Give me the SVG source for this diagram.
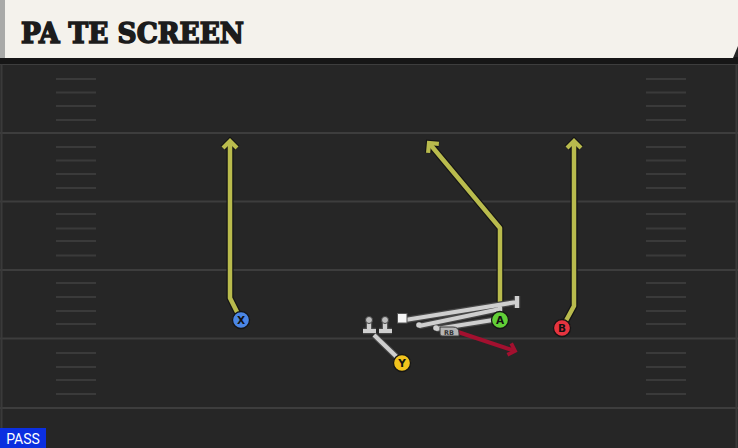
<svg xmlns="http://www.w3.org/2000/svg" width="738" height="448" viewBox="0 0 738 448">
<defs>
<style>
.yard{stroke:#3d3d3d;stroke-width:2}
.hash{stroke:#3a3a3a;stroke-width:2}
.rt-o{fill:none;stroke:#151515;stroke-width:7;stroke-linejoin:round}
.rt{fill:none;stroke:#b9bb4d;stroke-width:4.5;stroke-linejoin:round}
.blk-o{fill:none;stroke:#474747;stroke-width:6.5}
.blk{fill:none;stroke:#cfcfcf;stroke-width:4.2}
.pl{stroke:#151515;stroke-width:1.3}
.lbl{font-family:"DejaVu Sans","Liberation Sans",sans-serif;font-weight:bold;font-size:10.5px;fill:#111;text-anchor:middle}
</style>
<marker id="ah" viewBox="0 0 20 20" refX="11" refY="10" markerWidth="20" markerHeight="20" orient="auto" markerUnits="userSpaceOnUse">
<path d="M4,3 L11,10 L4,17" fill="none" stroke="#b9bb4d" stroke-width="4.2" stroke-linejoin="miter"/>
</marker>
<marker id="aho" viewBox="0 0 20 20" refX="11" refY="10" markerWidth="20" markerHeight="20" orient="auto" markerUnits="userSpaceOnUse">
<path d="M4,3 L11,10 L4,17" fill="none" stroke="#151515" stroke-width="6.5" stroke-linejoin="miter"/>
</marker>
<marker id="ahr" viewBox="0 0 20 20" refX="11" refY="10" markerWidth="20" markerHeight="20" orient="auto" markerUnits="userSpaceOnUse">
<path d="M5,4 L11,10 L5,16" fill="none" stroke="#a3102f" stroke-width="3.8"/>
</marker>
</defs>
<rect x="0" y="0" width="738" height="448" fill="#262626"/>
<g id="field">
<line x1="0" y1="64" x2="738" y2="64" class="yard"/>
<line x1="0" y1="133" x2="738" y2="133" class="yard"/>
<line x1="0" y1="201.5" x2="738" y2="201.5" class="yard"/>
<line x1="0" y1="270" x2="738" y2="270" class="yard"/>
<line x1="0" y1="338.5" x2="738" y2="338.5" class="yard"/>
<line x1="0" y1="408" x2="738" y2="408" class="yard"/>
<line x1="1.5" y1="60" x2="1.5" y2="448" stroke="#3a3a3a" stroke-width="2"/>
<line x1="736.5" y1="60" x2="736.5" y2="448" stroke="#3a3a3a" stroke-width="2"/>
<g class="hash">
<path d="M56,79H96M56,92.5H96M56,106H96M56,120H96M56,147H96M56,160.5H96M56,174H96M56,188H96M56,214H96M56,228.5H96M56,241H96M56,255.5H96M56,283H96M56,297H96M56,311H96M56,324H96M56,353H96M56,367H96M56,380H96M56,394H96"/>
<path d="M646,79H686M646,92.5H686M646,106H686M646,120H686M646,147H686M646,160.5H686M646,174H686M646,188H686M646,214H686M646,228.5H686M646,241H686M646,255.5H686M646,283H686M646,297H686M646,311H686M646,324H686M646,353H686M646,367H686M646,380H686M646,394H686"/>
</g>
</g>
<g id="header">
<rect x="0" y="57" width="738" height="7" fill="#161616"/>
<path d="M0,0 H738 V46 L733,58 H0 Z" fill="#f4f2ec"/>
<rect x="0" y="0" width="5" height="58" fill="#a9aaa8"/>
<text x="21" y="43" font-family="'DejaVu Serif','Liberation Serif',serif" font-weight="bold" font-size="27" fill="#1c1c1c" stroke="#1c1c1c" stroke-width="1.6" stroke-linejoin="miter" textLength="223" lengthAdjust="spacingAndGlyphs">PA TE SCREEN</text>
</g>
<g id="connectors">
<path class="rt-o" d="M241,320 L230,298 V141" marker-end="url(#aho)"/>
<path class="rt" d="M241,320 L230,298 V141" marker-end="url(#ah)"/>
<path class="rt-o" d="M500,320 V228 L429,143" marker-end="url(#aho)"/>
<path class="rt" d="M500,320 V228 L429,143" marker-end="url(#ah)"/>
<path class="rt-o" d="M562,328 L574,306 V141" marker-end="url(#aho)"/>
<path class="rt" d="M562,328 L574,306 V141" marker-end="url(#ah)"/>
<path d="M458,332 L515,351" fill="none" stroke="#a3102f" stroke-width="4" marker-end="url(#ahr)"/>
<g id="blocks">
<path class="blk-o" d="M405,320 L517,302 M517,296 V308 M419,326 L500,309 M500,303 V315 M436,329 L493,320 M402,362 L374,335 M369,321 V331 M363,331 H376 M385,321 V331 M379,331 H392"/>
<path class="blk" d="M405,320 L517,302 M517,296 V308 M419,326 L500,309 M500,303 V315 M436,329 L493,320 M402,362 L374,335 M369,321 V331 M363,331 H376 M385,321 V331 M379,331 H392"/>
<circle cx="369" cy="320" r="3.5" fill="#bdbdbd" stroke="#444" stroke-width="1"/>
<circle cx="385" cy="320" r="3.5" fill="#bdbdbd" stroke="#444" stroke-width="1"/>
<circle cx="419" cy="325" r="2.8" fill="#cfcfcf"/>
<circle cx="436" cy="328" r="2.8" fill="#cfcfcf"/>
<rect x="397.5" y="313.5" width="9.5" height="9.5" fill="#f5f5f5" stroke="#555" stroke-width="1"/>
</g>
</g>
<g id="RB">
<path d="M440,327 H453 Q459,327 459,333 V336 H442 Q440,336 440,334 Z" fill="#b5b5b5" stroke="#3a3a3a" stroke-width="1"/>
<text x="449" y="334.5" font-family="'DejaVu Sans',sans-serif" font-weight="bold" font-size="6.5" fill="#333" text-anchor="middle">RB</text>
</g>
<g id="X">
<circle cx="241" cy="320" r="8.5" fill="#4b86e5" class="pl"/>
<text x="241" y="324" class="lbl">X</text>
</g>
<g id="A">
<circle cx="500" cy="320" r="8.5" fill="#62cf37" class="pl"/>
<text x="500" y="324" class="lbl">A</text>
</g>
<g id="B">
<circle cx="562" cy="328" r="8.5" fill="#e6343f" class="pl"/>
<text x="562" y="332" class="lbl">B</text>
</g>
<g id="Y">
<circle cx="402" cy="363" r="8.5" fill="#f1c31d" class="pl"/>
<text x="402" y="367" class="lbl">Y</text>
</g>
<g id="pass">
<rect x="0" y="428" width="46" height="20" fill="#0b2fe0"/>
<text x="23" y="444" font-family="Roboto,'Liberation Sans',sans-serif" font-size="14" fill="#ffffff" text-anchor="middle">PASS</text>
</g>
</svg>
